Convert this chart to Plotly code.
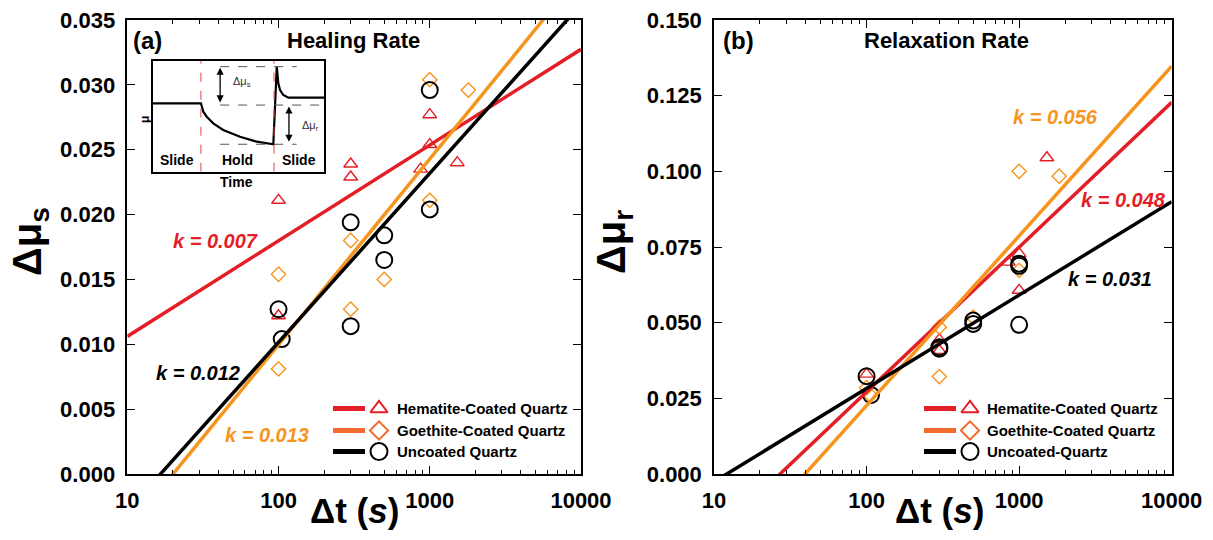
import numpy as np
import plotly.graph_objects as go

# ---------------- data ----------------
# (a) healing: hold time (s) vs. Δμs
hem_a_t = [100, 100, 300, 300, 870, 1000, 1000, 1520]
hem_a_mu = [0.0211, 0.0122, 0.0239, 0.0229, 0.0235, 0.0277, 0.0254, 0.0240]
goe_a_t = [100, 100, 300, 300, 500, 1000, 1000, 1800]
goe_a_mu = [0.0154, 0.0081, 0.0180, 0.0127, 0.0150, 0.0304, 0.0211, 0.0296]
unc_a_t = [100, 105, 300, 300, 500, 500, 1000, 1000]
unc_a_mu = [0.0127, 0.0104, 0.0194, 0.0114, 0.0184, 0.0165, 0.0296, 0.0204]

# (b) relaxation: hold time (s) vs. Δμr
hem_b_t = [100, 300, 300, 850, 1000, 1000, 1520]
hem_b_mu = [0.0330, 0.0444, 0.0408, 0.0700, 0.0728, 0.0607, 0.1045]
goe_b_t = [100, 105, 300, 300, 500, 1000, 1000, 1830]
goe_b_mu = [0.0285, 0.0262, 0.0485, 0.0322, 0.0518, 0.1000, 0.0673, 0.0984]
unc_b_t = [100, 107, 300, 300, 500, 500, 1000, 1000, 1000]
unc_b_mu = [0.0323, 0.0261, 0.0419, 0.0414, 0.0507, 0.0496, 0.0695, 0.0688, 0.0493]

# log-linear fits  Δμ = intercept + slope * log10(t)   (hematite, goethite, uncoated)
fit_a_slope = [0.00738, 0.01431, 0.01302]
fit_a_icpt = [0.00322, -0.01864, -0.01588]
fit_b_slope = [0.04784, 0.05606, 0.03084]
fit_b_icpt = [-0.06855, -0.08951, -0.03341]
k_a_labels = ["k = 0.007", "k = 0.013", "k = 0.012"]
k_b_labels = ["k = 0.048", "k = 0.056", "k = 0.031"]

series_names_a = ["Hematite-Coated Quartz", "Goethite-Coated Quartz", "Uncoated Quartz"]
series_names_b = ["Hematite-Coated Quartz", "Goethite-Coated Quartz", "Uncoated-Quartz"]

x_tick_vals = [10, 100, 1000, 10000]
x_tick_text = ["10", "100", "1000", "10000"]
x_minor_vals = [m * d for d in (10, 100, 1000) for m in range(2, 10)]

# schematic slide-hold-slide trace for the inset (arbitrary units)
inset_time = [0, 28.1, 29.5, 31.5, 35.3, 41.1, 50.9, 60.6, 70.3, 72.3, 73.2, 74.2, 76.1, 79.1, 100]
inset_mu = [61.8, 61.8, 54.2, 49.7, 43.7, 37.7, 31.6, 27.1, 24.8, 94.9, 79.9, 73.8, 69.3, 66.9, 66.9]

# ---------------- styling ----------------
W, H = 1213, 540
M_T, M_B = 20, 66
FONT = "Arial, 'Liberation Sans', sans-serif"
RED = "#e41e26"
ORANGE = "#f7941d"
LEG_ORANGE = "#f26a2e"
BLACK = "#000000"

colors = [RED, ORANGE, BLACK]
symbols = ["triangle-up-open", "diamond-open", "circle-open"]
msizes = [12, 11, 16]
mlw = [1.4, 1.4, 2.0]


def pxx(p):
    return p / W


def pxy(p):
    return (H - M_B - p) / (H - M_T - M_B)


def label(px_, py_, text, size, color=BLACK, **kw):
    fig.add_annotation(x=pxx(px_), y=pxy(py_), xref="paper", yref="paper", text=text,
                       showarrow=False, xanchor=kw.pop("xanchor", "center"), yanchor="middle",
                       font=dict(family=FONT, size=size, color=color), **kw)


fig = go.Figure()

# ---- scatter points and fit lines ----
panels = [
    ("x", "y", [(hem_a_t, hem_a_mu), (goe_a_t, goe_a_mu), (unc_a_t, unc_a_mu)], fit_a_slope, fit_a_icpt),
    ("x2", "y2", [(hem_b_t, hem_b_mu), (goe_b_t, goe_b_mu), (unc_b_t, unc_b_mu)], fit_b_slope, fit_b_icpt),
]
for xa, ya, pts, slopes, icpts in panels:
    for i, (t, mu) in enumerate(pts):
        fig.add_trace(go.Scatter(
            x=t, y=mu, xaxis=xa, yaxis=ya, mode="markers", showlegend=False,
            marker=dict(symbol=symbols[i], size=msizes[i], color=colors[i],
                        line=dict(width=mlw[i], color=colors[i])),
            hoverinfo="skip"))
    for i in range(3):
        tt = np.array([10.0, 10000.0])
        fig.add_trace(go.Scatter(
            x=tt, y=icpts[i] + slopes[i] * np.log10(tt), xaxis=xa, yaxis=ya,
            mode="lines", showlegend=False, line=dict(color=colors[i], width=3.5),
            hoverinfo="skip"))

# ---- inset schematic ----
fig.add_trace(go.Scatter(x=inset_time, y=inset_mu, xaxis="x3", yaxis="y3", mode="lines",
                         line=dict(color=BLACK, width=2.2), showlegend=False, hoverinfo="skip"))

# ---- hand-built legends (overlay in pixel units) ----
legend_rows_y = [408.5, 430.5, 451.5]
legend_specs = [((333, 365, 379, 395), series_names_a), ((924, 956, 970, 985), series_names_b)]
for (lx0, lx1, mx, tx), names in legend_specs:
    for i in range(3):
        lc = [RED, LEG_ORANGE, BLACK][i]
        fig.add_trace(go.Scatter(x=[lx0, lx1], y=[legend_rows_y[i]] * 2, xaxis="x4", yaxis="y4",
                                 mode="lines", line=dict(color=lc, width=5),
                                 showlegend=False, hoverinfo="skip"))
        fig.add_trace(go.Scatter(x=[mx], y=[legend_rows_y[i]], xaxis="x4", yaxis="y4",
                                 mode="markers", showlegend=False, hoverinfo="skip",
                                 marker=dict(symbol=symbols[i], size=[15, 14, 17][i], color=lc,
                                             line=dict(width=2, color=lc))))

axis_common = dict(showline=True, linecolor=BLACK, linewidth=1.5, mirror="allticks",
                   ticks="inside", tickcolor=BLACK, tickwidth=1.2, showgrid=False, zeroline=False,
                   automargin=False,
                   tickfont=dict(family=FONT, size=22, color=BLACK, weight="bold"))

xlog = dict(type="log", range=[1, 4], tickvals=x_tick_vals, ticktext=x_tick_text, ticklen=8,
            minor=dict(tickvals=x_minor_vals, ticks="inside", ticklen=4, tickcolor=BLACK,
                       tickwidth=1, showgrid=False),
            ticklabelstandoff=6, **axis_common)

hidden = dict(showticklabels=False, ticks="", showgrid=False, zeroline=False,
              fixedrange=True, automargin=False)

fig.update_layout(
    width=W, height=H, margin=dict(l=0, r=0, t=M_T, b=M_B, autoexpand=False),
    paper_bgcolor="white", plot_bgcolor="rgba(0,0,0,0)",
    font=dict(family=FONT, color=BLACK),
    xaxis=dict(domain=[pxx(127.3), pxx(581)], anchor="y", **xlog),
    yaxis=dict(domain=[0, 1], anchor="x", range=[0, 0.035], tickvals=[i * 0.005 for i in range(8)],
               tickformat=".3f", ticklen=8, ticklabelstandoff=6, **axis_common),
    xaxis2=dict(domain=[pxx(714), pxx(1171.7)], anchor="y2", **xlog),
    yaxis2=dict(domain=[0, 1], anchor="x2", range=[0, 0.15], tickvals=[i * 0.025 for i in range(7)],
                tickformat=".3f", ticklen=8, ticklabelstandoff=6, **axis_common),
    xaxis3=dict(domain=[pxx(152.7), pxx(324.3)], anchor="y3", range=[0, 100], showline=True,
                mirror=True, linecolor=BLACK, linewidth=2, **hidden),
    yaxis3=dict(domain=[pxy(171.7), pxy(61)], anchor="x3", range=[0, 100], showline=True,
                mirror=True, linecolor=BLACK, linewidth=2, **hidden),
    xaxis4=dict(domain=[0, 1], anchor="y4", range=[0, W], visible=False, **hidden),
    yaxis4=dict(domain=[0, 1], anchor="x4", range=[H - M_B, M_T], visible=False, **hidden),
)

# legend texts
for (lx0, lx1, mx, tx), names in legend_specs:
    for i in range(3):
        label(tx, legend_rows_y[i], "<b>%s</b>" % names[i], 15, xanchor="left")

# ---- inset guides ----
shapes = []
for xv in (28.1, 70.7):
    shapes.append(dict(type="line", xref="x3", yref="y3", x0=xv, x1=xv, y0=0, y1=100,
                       line=dict(color="#e8434b", width=1, dash="dash")))
for yv, x0, x1 in ((94.9, 39.3, 83.9), (60.2, 39.3, 97.5), (24.8, 39.3, 83.9)):
    shapes.append(dict(type="line", xref="x3", yref="y3", x0=x0, x1=x1, y0=yv, y1=yv,
                       line=dict(color="#555555", width=1, dash="dash")))
fig.update_layout(shapes=shapes)

for xv, y_top, y_bot in ((39.3, 94.0, 61.2), (79.4, 59.0, 25.6)):
    fig.add_annotation(x=xv, y=y_top, ax=xv, ay=y_bot, xref="x3", yref="y3", axref="x3", ayref="y3",
                       text="", showarrow=True, arrowhead=2, startarrowhead=2, arrowside="end+start",
                       arrowsize=1.1, arrowwidth=1.3, arrowcolor=BLACK)
fig.add_annotation(x=52, y=81, xref="x3", yref="y3", text="Δμ<sub>s</sub>", showarrow=False,
                   xanchor="center", yanchor="middle",
                   font=dict(family=FONT, size=11, color="#333333"))
fig.add_annotation(x=92, y=41, xref="x3", yref="y3", text="Δμ<sub>r</sub>", showarrow=False,
                   xanchor="center", yanchor="middle",
                   font=dict(family=FONT, size=11, color="#333333"))
for xv, lab in ((14, "Slide"), (49.7, "Hold"), (85.3, "Slide")):
    fig.add_annotation(x=xv, y=10.5, xref="x3", yref="y3", text="<b>%s</b>" % lab, showarrow=False,
                       xanchor="center", yanchor="middle",
                       font=dict(family=FONT, size=14, color=BLACK))
label(145, 120, "<b>μ</b>", 12, textangle=-90)
label(236.7, 182, "<b>Time</b>", 14)

# ---- panel titles ----
for px_, py_, txt, sz in ((147, 40, "(a)", 24), (353, 40, "Healing Rate", 22),
                          (738, 40, "(b)", 24), (946, 40, "Relaxation Rate", 22)):
    label(px_, py_, "<b>%s</b>" % txt, sz)

# ---- fit-slope labels ----
k_pos_a = [(215, 241), (266.5, 435), (197.5, 373)]
k_pos_b = [(1123, 200), (1055, 117), (1110, 279)]
for labels, pos in ((k_a_labels, k_pos_a), (k_b_labels, k_pos_b)):
    for i in range(3):
        label(pos[i][0], pos[i][1], "<b><i>%s</i></b>" % labels[i], 20, colors[i])

# ---- axis titles ----
for px_ in (355, 940):
    label(px_, 510, "<b>Δt (<i>s</i>)</b>", 35)
for px_, sub in ((30, "s"), (614, "r")):
    label(px_, 242, "<b>Δμ<sub>%s</sub></b>" % sub, 40, textangle=-90)

fig.write_html("out.html")
